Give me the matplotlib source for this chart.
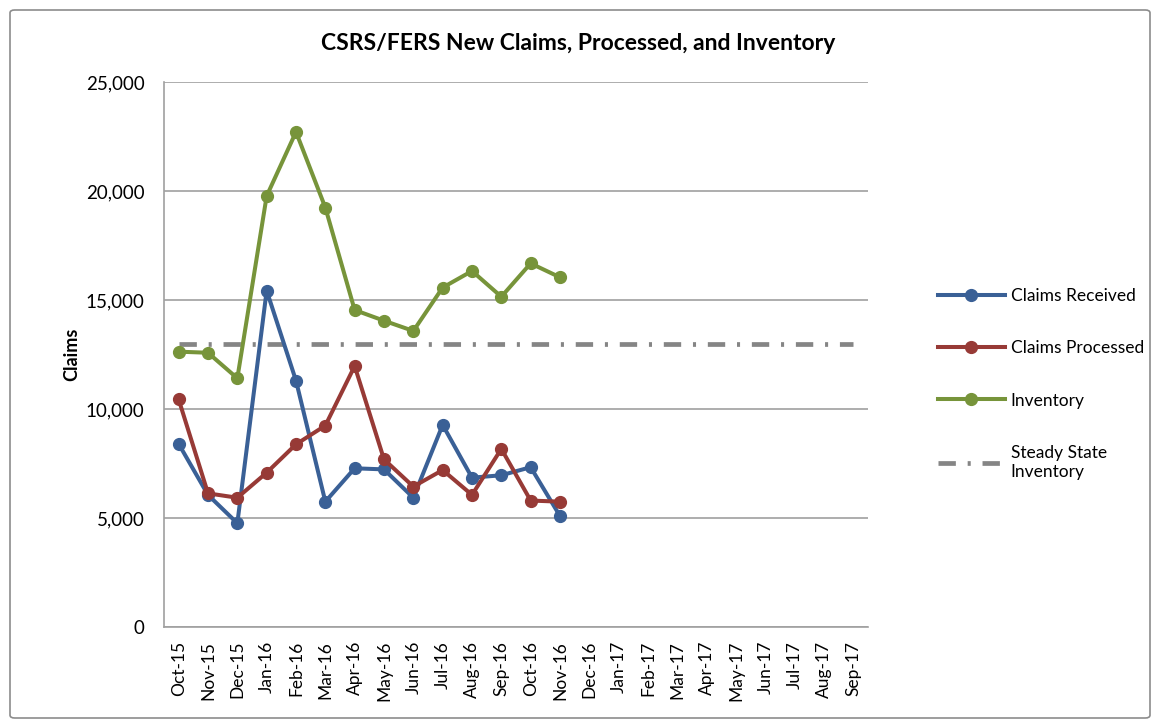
"""
CSRS/FERS new claims, processed, and inventory (monthly).
"""

import matplotlib
matplotlib.use('Agg')
import matplotlib.pyplot as plt
from matplotlib.patches import FancyBboxPatch
from matplotlib.ticker import FuncFormatter


months = ['Oct-15', 'Nov-15', 'Dec-15', 'Jan-16', 'Feb-16', 'Mar-16',
          'Apr-16', 'May-16', 'Jun-16', 'Jul-16', 'Aug-16', 'Sep-16',
          'Oct-16', 'Nov-16', 'Dec-16', 'Jan-17', 'Feb-17', 'Mar-17',
          'Apr-17', 'May-17', 'Jun-17', 'Jul-17', 'Aug-17', 'Sep-17']

received = [8400, 6060, 4760, 15430, 11300, 5750, 7280, 7230, 5930,
            9270, 6850, 6960, 7330, 5090]
processed = [10440, 6130, 5930, 7080, 8380, 9240, 11970, 7690, 6440,
             7200, 6060, 8170, 5800, 5750]
inventory = [12630, 12580, 11410, 19770, 22710, 19240, 14540, 14050,
             13580, 15570, 16330, 15150, 16680, 16040]
steady_state = [13000] * len(months)

legend = ['Claims Received', 'Claims Processed', 'Inventory',
          'Steady State\nInventory']


def main():
    plt.rcParams['font.family'] = ['Lato', 'DejaVu Sans']
    plt.rcParams['lines.scale_dashes'] = False

    fig = plt.figure(figsize=(11.58, 7.26), dpi=100)
    ax = fig.add_axes([164 / 1158, 1 - 627 / 726, 704 / 1158, 545 / 726])

    x = list(range(len(months)))
    n = len(received)
    ax.plot(x[:n], received, '-o', color='#3A6096', lw=2.9, ms=8.5,
            label=legend[0], zorder=3)
    ax.plot(x[:n], processed, '-o', color='#973A36', lw=2.9, ms=8.5,
            label=legend[1], zorder=3)
    ax.plot(x[:n], inventory, '-o', color='#77943A', lw=2.9, ms=8.5,
            label=legend[2], zorder=3)
    ss, = ax.plot(x, steady_state, color='#858585', lw=3.4,
                  label=legend[3], zorder=2)
    ss.set_dashes((12.5, 8.5, 2.2, 8.5))

    ax.set_xlim(-0.5, len(months) - 0.5)
    ax.set_ylim(0, 25000)
    ax.set_yticks(range(0, 25001, 5000))
    ax.yaxis.set_major_formatter(FuncFormatter(lambda v, p: f'{int(v):,}'))
    ax.set_xticks(x)
    ax.set_xticklabels(months, rotation=90, fontsize=12.5)
    ax.tick_params(axis='y', labelsize=13.5, length=0, pad=14)
    ax.tick_params(axis='x', length=0, pad=10)
    ax.grid(axis='y', color='#A0A0A0', lw=1.2)
    ax.set_axisbelow(True)
    for s in ['top', 'right']:
        ax.spines[s].set_visible(False)
    ax.spines['left'].set_color('#A0A0A0')
    ax.spines['bottom'].set_color('#A0A0A0')
    ax.spines['left'].set_linewidth(1.2)
    ax.spines['bottom'].set_linewidth(1.2)

    ax.set_ylabel('Claims', fontsize=13, fontweight='bold', labelpad=4)
    fig.text(578 / 1158, 1 - 43 / 726,
             'CSRS/FERS New Claims, Processed, and Inventory',
             ha='center', va='center', fontsize=16.5, fontweight='bold')

    fig.legend(loc='upper left', bbox_to_anchor=(922 / 1158, 1 - 272 / 726),
               frameon=False, fontsize=12.5, labelspacing=2.1,
               handlelength=3.9, handletextpad=0.3)

    border = FancyBboxPatch((10 / 1158, 8 / 726), 1140 / 1158, 708 / 726,
                            boxstyle='round,pad=0,rounding_size=0.004',
                            transform=fig.transFigure, fill=False,
                            edgecolor='#8C8C8C', lw=1.2)
    fig.patches.append(border)

    fig.savefig('out.png', dpi=100)


if __name__ == "__main__":
    main()
